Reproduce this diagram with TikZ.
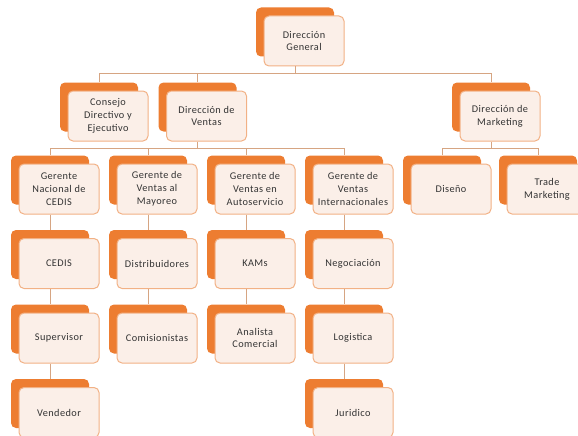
\documentclass[tikz,border=0pt]{standalone}
\usepackage{fontspec}
\setmainfont{Carlito}
\usepackage{tikz}
\usetikzlibrary{positioning}
\definecolor{naranja}{HTML}{ED7D31}
\definecolor{crema}{HTML}{FBEFE8}
\definecolor{borde}{HTML}{F2B185}
\definecolor{conector}{HTML}{D6A582}
\definecolor{texto}{HTML}{333333}
\newcommand{\caja}[4]{%
  \node[fondo] (#1-b) at (#2,#3) {};
  \node[frente] (#1) at (#2+9,#3+9) {#4};
}

\begin{document}
\begin{tikzpicture}[x=1pt, y=-1pt,
  fondo/.style={fill=naranja, rounded corners=5pt, inner sep=0pt,
    minimum width=78pt, minimum height=49pt},
  frente/.style={fill=crema, draw=borde, line width=1pt, rounded corners=5pt,
    inner sep=0pt, minimum width=80pt, minimum height=50pt, align=center,
    text=texto, font=\fontsize{10.3}{12.8}\selectfont\addfontfeature{LetterSpace=4}},
  enlace/.style={draw=conector, line width=1pt}]
  \useasboundingbox (0,0) rectangle (578,436);
  \clip (0,0) rectangle (578,436);
  \caja{dg}{295}{32}{Dirección\\General}
  \caja{cons}{99}{107}{Consejo\\Directivo y\\Ejecutivo}
  \caja{dv}{197.5}{107}{Dirección de\\Ventas}
  \caja{dm}{491}{107}{Dirección de\\Marketing}
  \caja{gn}{50}{180}{Gerente\\Nacional de\\CEDIS}
  \caja{gm}{148}{180}{Gerente de\\Ventas al\\Mayoreo}
  \caja{ga}{246}{180}{Gerente de\\Ventas en\\Autoservicio}
  \caja{gi}{344}{180}{Gerente de\\Ventas\\Internacionales}
  \caja{dis}{442}{180}{Diseño}
  \caja{tm}{538}{180}{Trade\\Marketing}
  \caja{cedis}{50}{254.5}{CEDIS}
  \caja{dist}{148}{254.5}{Distribuidores}
  \caja{kams}{246}{254.5}{KAMs}
  \caja{neg}{344}{254.5}{Negociación}
  \caja{sup}{50}{329}{Supervisor}
  \caja{com}{148}{329}{Comisionistas}
  \caja{ana}{246}{329}{Analista\\Comercial}
  \caja{log}{344}{329}{Logistica}
  \caja{ven}{50}{403.5}{Vendedor}
  \caja{jur}{344}{403.5}{Juridico}
  \coordinate (bus1) at (0,73);
  \coordinate (bus2) at (0,148);
  \draw[enlace] (dg-b |- dg.south) -- (dg-b |- bus1);
  \draw[enlace] (cons-b.north) |- (dm-b |- bus1) -- (dm-b.north);
  \draw[enlace] (dv-b.north) -- (dv-b |- bus1);
  \draw[enlace] (dv-b |- dv.south) -- (dv-b |- bus2);
  \draw[enlace] (gn-b.north) |- (gi-b |- bus2) -- (gi-b.north);
  \draw[enlace] (gm-b.north) -- (gm-b |- bus2);
  \draw[enlace] (ga-b.north) -- (ga-b |- bus2);
  \draw[enlace] (dm-b |- dm.south) -- (dm-b |- bus2);
  \draw[enlace] (dis-b.north) |- (tm-b |- bus2) -- (tm-b.north);
  \foreach \a/\b in {gn/cedis, cedis/sup, sup/ven, gm/dist, dist/com,
    ga/kams, kams/ana, gi/neg, neg/log, log/jur}
    \draw[enlace] (\a-b |- \a.south) -- (\b-b.north);
\end{tikzpicture}
\end{document}
